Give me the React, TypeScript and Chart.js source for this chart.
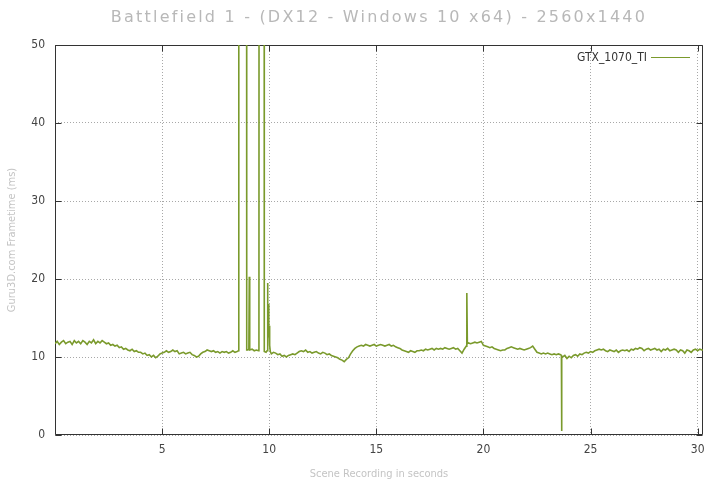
import React, { useEffect, useRef } from 'react';
import { Chart, registerables } from 'chart.js';

Chart.register(...registerables);

const chartTitle = 'Battlefield 1 - (DX12 - Windows 10 x64) - 2560x1440';
const seriesName = 'GTX_1070_TI';
const xAxisTitle = 'Scene Recording in seconds';
const yAxisTitle = 'Guru3D.com Frametime (ms)';
const xTickValues = [0, 5, 10, 15, 20, 25, 30];
const yTickValues = [0, 10, 20, 30, 40, 50];

const timeSec = [
  0, 0.1, 0.2, 0.3, 0.4, 0.5, 0.6, 0.7, 0.8, 0.9,
  1, 1.1, 1.2, 1.3, 1.4, 1.5, 1.6, 1.7, 1.8, 1.9,
  2, 2.1, 2.2, 2.3, 2.4, 2.5, 2.6, 2.7, 2.8, 2.9,
  3, 3.1, 3.2, 3.3, 3.4, 3.5, 3.6, 3.7, 3.8, 3.9,
  4, 4.1, 4.2, 4.3, 4.4, 4.5, 4.6, 4.7, 4.8, 4.9,
  5, 5.1, 5.2, 5.3, 5.4, 5.5, 5.6, 5.7, 5.8, 5.9,
  6, 6.1, 6.2, 6.3, 6.4, 6.5, 6.6, 6.7, 6.8, 6.9,
  7, 7.1, 7.2, 7.3, 7.4, 7.5, 7.6, 7.7, 7.8, 7.9,
  8, 8.1, 8.2, 8.3, 8.4, 8.5,
  8.57, 8.58, 8.94, 8.95, 9, 9.05, 9.07, 9.09, 9.2, 9.3, 9.4, 9.5, 9.52, 9.53, 9.76, 9.77, 9.85, 9.9, 9.92, 9.94, 9.96, 9.98, 10, 10.02, 10.05,
  10.1, 10.2, 10.3, 10.4, 10.5, 10.6, 10.7, 10.8, 10.9,
  11, 11.1, 11.2, 11.3, 11.4, 11.5, 11.6, 11.7, 11.8, 11.9,
  12, 12.1, 12.2, 12.3, 12.4, 12.5, 12.6, 12.7, 12.8, 12.9,
  13, 13.1, 13.2, 13.3, 13.4, 13.5, 13.6, 13.7, 13.8, 13.9,
  14, 14.1, 14.2, 14.3, 14.4, 14.5, 14.6, 14.7, 14.8, 14.9,
  15, 15.1, 15.2, 15.3, 15.4, 15.5, 15.6, 15.7, 15.8, 15.9,
  16, 16.1, 16.2, 16.3, 16.4, 16.5, 16.6, 16.7, 16.8, 16.9,
  17, 17.1, 17.2, 17.3, 17.4, 17.5, 17.6, 17.7, 17.8, 17.9,
  18, 18.1, 18.2, 18.3, 18.4, 18.5, 18.6, 18.7, 18.8, 18.9,
  19, 19.1, 19.2, 19.22, 19.23, 19.25, 19.3, 19.4, 19.5, 19.6, 19.7, 19.8, 19.9,
  20, 20.1, 20.2, 20.3, 20.4, 20.5, 20.6, 20.7, 20.8, 20.9,
  21, 21.1, 21.2, 21.3, 21.4, 21.5, 21.6, 21.7, 21.8, 21.9,
  22, 22.1, 22.2, 22.3, 22.4, 22.5, 22.6, 22.7, 22.8, 22.9,
  23, 23.1, 23.2, 23.3, 23.4, 23.5, 23.6, 23.64, 23.65, 23.66, 23.7, 23.8, 23.9,
  24, 24.1, 24.2, 24.3, 24.4, 24.5, 24.6, 24.7, 24.8, 24.9,
  25, 25.1, 25.2, 25.3, 25.4, 25.5, 25.6, 25.7, 25.8, 25.9,
  26, 26.1, 26.2, 26.3, 26.4, 26.5, 26.6, 26.7, 26.8, 26.9,
  27, 27.1, 27.2, 27.3, 27.4, 27.5, 27.6, 27.7, 27.8, 27.9,
  28, 28.1, 28.2, 28.3, 28.4, 28.5, 28.6, 28.7, 28.8, 28.9,
  29, 29.1, 29.2, 29.3, 29.4, 29.5, 29.6, 29.7, 29.8, 29.9,
  30, 30.1, 30.2, 30.3,
];

const frametimeMs = [
  11.7, 12.0, 11.6, 11.9, 12.1, 11.7, 11.9, 12.0, 11.6, 12.1,
  11.8, 12.0, 11.7, 12.1, 11.9, 11.6, 12.0, 11.8, 12.2, 11.7,
  12.0, 11.8, 12.1, 11.9, 11.7, 11.8, 11.5, 11.6, 11.4, 11.5,
  11.2, 11.3, 11.0, 11.1, 10.9, 10.8, 11.0, 10.7, 10.8, 10.6,
  10.6, 10.4, 10.5, 10.2, 10.3, 10.0, 10.2, 9.9, 10.1, 10.4,
  10.5, 10.6, 10.8, 10.6, 10.7, 10.9, 10.7, 10.8, 10.4, 10.5,
  10.6, 10.4, 10.5, 10.6, 10.3, 10.2, 10.0, 10.1, 10.4, 10.6,
  10.7, 10.9, 10.8, 10.7, 10.8, 10.6, 10.7, 10.5, 10.7, 10.6,
  10.7, 10.5, 10.6, 10.8, 10.6, 10.7,
  10.8, 120, 120, 10.9, 10.9, 11.0, 20.3, 10.9, 11.0, 10.8, 10.9, 10.8, 10.9, 120, 120, 10.7, 10.6, 10.8, 19.5, 14.5, 16.8, 12.5, 14.0, 11.5, 10.7,
  10.4, 10.6, 10.5, 10.3, 10.4, 10.1, 10.2, 10.0, 10.2,
  10.3, 10.4, 10.3, 10.5, 10.7, 10.8, 10.7, 10.9, 10.6, 10.7,
  10.5, 10.6, 10.7, 10.5, 10.4, 10.6, 10.5, 10.3, 10.4, 10.2,
  10.1, 10.0, 9.9, 9.7, 9.6, 9.4, 9.7, 9.9, 10.4, 10.8,
  11.1, 11.3, 11.4, 11.5, 11.4, 11.6, 11.5, 11.4, 11.5, 11.6,
  11.4, 11.5, 11.6, 11.5, 11.4, 11.5, 11.6, 11.4, 11.5, 11.3,
  11.2, 11.1, 10.9, 10.8, 10.7, 10.6, 10.8, 10.7, 10.6, 10.8,
  10.8, 10.9, 10.8, 11.0, 10.9, 11.0, 11.1, 10.9, 11.1, 11.0,
  11.1, 11.0, 11.2, 11.1, 11.0, 11.1, 11.2, 11.0, 11.1, 10.8,
  10.5, 11.0, 11.4, 11.6, 18.2, 11.7, 11.8, 11.7, 11.8, 11.9, 11.8, 11.9, 12.0,
  11.5, 11.4, 11.3, 11.2, 11.3, 11.1, 11.0, 10.9, 10.8, 10.9,
  10.9, 11.1, 11.2, 11.3, 11.2, 11.1, 11.0, 11.1, 11.0, 10.9,
  11.0, 11.1, 11.2, 11.4, 11.0, 10.6, 10.5, 10.4, 10.5, 10.4,
  10.5, 10.4, 10.3, 10.4, 10.3, 10.4, 10.3, 10.2, 0.5, 10.1, 10.0, 10.2, 9.8,
  10.1, 9.9, 10.2, 10.3, 10.1, 10.4, 10.3, 10.5, 10.6, 10.5,
  10.7, 10.6, 10.8, 10.9, 11.0, 10.9, 11.0, 10.8, 10.7, 10.9,
  10.8, 10.7, 10.9, 10.6, 10.8, 10.9, 10.8, 10.9, 10.7, 11.0,
  10.9, 11.1, 11.0, 11.2, 11.1, 10.8, 11.0, 11.1, 10.9, 11.0,
  11.1, 10.9, 11.0, 10.7, 11.0, 10.9, 11.1, 10.8, 10.9, 11.0,
  10.9, 10.6, 10.9, 10.8, 10.5, 10.9, 10.8, 10.6, 10.9, 11.0,
  10.8, 11.0, 10.9, 10.9,
];

const LINE_COLOR = '#7a9a2c';
const TICK_FONT = "'DejaVu Sans Condensed', 'Liberation Sans', sans-serif";

const spacedTitle = {
  id: 'spacedTitle',
  beforeDraw(chart: any) {
    const tb = chart.titleBlock;
    if (tb && !tb.__spaced) {
      const orig = tb.draw.bind(tb);
      tb.draw = (...args: any[]) => {
        const c = chart.ctx;
        c.save();
        (c as any).letterSpacing = '2.2px';
        orig(...args);
        c.restore();
      };
      tb.__spaced = true;
    }
  },
};

const frameAndTicks = {
  id: 'frameAndTicks',
  beforeDatasetsDraw(chart: any) {
    const { ctx, chartArea: a, scales } = chart;
    const L = Math.round(a.left) + 0.5;
    const R = Math.round(a.right) - 0.5;
    const T = Math.round(a.top) + 0.5;
    const B = Math.round(a.bottom) - 0.5;
    ctx.save();
    ctx.strokeStyle = '#333';
    ctx.lineWidth = 1;
    ctx.beginPath();
    ctx.rect(L, T, R - L, B - T);
    for (const t of scales.x.ticks) {
      const px = Math.round(scales.x.getPixelForValue(t.value)) + 0.5;
      ctx.moveTo(px, B);
      ctx.lineTo(px, B - 6);
      ctx.moveTo(px, T);
      ctx.lineTo(px, T + 6);
    }
    for (const t of scales.y.ticks) {
      const py = Math.round(scales.y.getPixelForValue(t.value)) + 0.5;
      ctx.moveTo(L, py);
      ctx.lineTo(L + 6, py);
      ctx.moveTo(R, py);
      ctx.lineTo(R - 6, py);
    }
    ctx.stroke();
    ctx.restore();
  },
  afterDatasetsDraw(chart: any) {
    const { ctx, chartArea: a } = chart;
    const ds = chart.data.datasets[0];
    const lineEnd = a.right - 13;
    const lineStart = lineEnd - 39;
    const y = a.top + 12;
    ctx.save();
    ctx.font = `12px ${TICK_FONT}`;
    ctx.fillStyle = '#333';
    ctx.textAlign = 'right';
    ctx.textBaseline = 'middle';
    ctx.fillText(ds.label, lineStart - 4, y + 1);
    ctx.strokeStyle = ds.borderColor;
    ctx.lineWidth = 1;
    ctx.beginPath();
    ctx.moveTo(lineStart, Math.round(y) + 0.5);
    ctx.lineTo(lineEnd, Math.round(y) + 0.5);
    ctx.stroke();
    ctx.restore();
  },
};

export default function App() {
  const canvasRef = useRef<HTMLCanvasElement | null>(null);

  useEffect(() => {
    const canvas = canvasRef.current;
    if (!canvas) return;
    const points = timeSec.map((t, i) => ({ x: t, y: frametimeMs[i] }));
    const chart = new Chart(canvas, {
      type: 'line',
      data: {
        datasets: [
          {
            label: seriesName,
            data: points,
            borderColor: LINE_COLOR,
            backgroundColor: LINE_COLOR,
            borderWidth: 1.6,
            pointRadius: 0,
            tension: 0,
          },
        ],
      },
      plugins: [spacedTitle, frameAndTicks],
      options: {
        animation: false,
        responsive: false,
        devicePixelRatio: 1,
        layout: { padding: { left: 0, right: 22, top: 0, bottom: 0 } },
        plugins: {
          legend: { display: false },
          tooltip: { enabled: false },
          title: {
            display: true,
            text: chartTitle,
            fullSize: false,
            color: '#b8b8b8',
            font: { family: "'DejaVu Sans', sans-serif", size: 16, weight: 'normal', lineHeight: 1.2 },
            padding: { top: 8, bottom: 17.8 },
          },
        },
        scales: {
          x: {
            type: 'linear',
            min: 0,
            max: 30.25,
            afterFit: (s: any) => {
              s.height = 49;
            },
            afterBuildTicks: (s: any) => {
              s.ticks = xTickValues.map((v) => ({ value: v }));
            },
            ticks: {
              color: '#444',
              font: { family: TICK_FONT, size: 12 },
              padding: 8,
              maxRotation: 0,
              callback: (v: any) => (v === 0 ? '' : String(v)),
            },
            grid: { color: '#a8a8a8', lineWidth: 1, drawTicks: false },
            border: { display: false, dash: [1, 2] },
            title: {
              display: true,
              text: xAxisTitle,
              color: '#c4c4c4',
              font: { family: TICK_FONT, size: 11 },
              padding: { top: 0, bottom: 3 },
            },
          },
          y: {
            type: 'linear',
            min: 0,
            max: 50,
            afterFit: (s: any) => {
              s.width = 55;
            },
            afterBuildTicks: (s: any) => {
              s.ticks = yTickValues.map((v) => ({ value: v }));
            },
            ticks: {
              color: '#444',
              font: { family: TICK_FONT, size: 12 },
              padding: 10,
            },
            grid: { color: '#a8a8a8', lineWidth: 1, drawTicks: false },
            border: { display: false, dash: [1, 2] },
            title: {
              display: true,
              text: yAxisTitle,
              color: '#c4c4c4',
              font: { family: TICK_FONT, size: 11 },
              padding: { top: 6, bottom: 0 },
            },
          },
        },
      },
    });
    return () => chart.destroy();
  }, []);

  return (
    <div style={{ position: 'absolute', left: 0, top: 0, width: 725, height: 484, background: '#fff' }}>
      <canvas ref={canvasRef} width={725} height={484} style={{ display: 'block', width: 725, height: 484 }} />
    </div>
  );
}
